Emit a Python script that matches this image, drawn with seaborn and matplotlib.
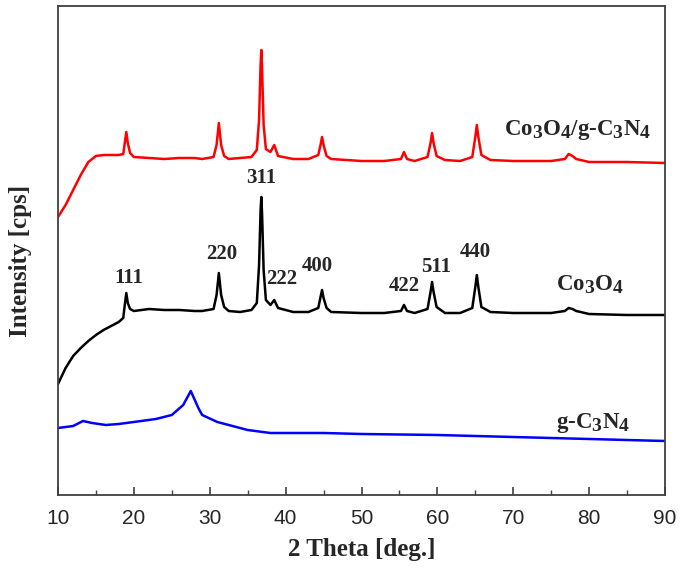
import matplotlib
matplotlib.use("Agg")
import matplotlib.pyplot as plt
from matplotlib.ticker import MultipleLocator
import matplotlib._mathtext as _mt
import seaborn as sns
import pandas as pd

# ---- data (2 theta in degrees, intensity in arbitrary units) ----
theta_x = [10, 11, 12, 13, 14, 15, 16, 17, 18, 18.6, 18.8, 19.0, 19.2, 19.5,
           20, 22, 24, 26, 28, 29, 30.5, 30.9, 31.2, 31.5, 31.9, 32.5,
           34, 35.5, 36.2, 36.5, 36.7, 36.8, 36.9, 37.1, 37.4, 38, 38.5, 39,
           41, 43, 44.3, 44.6, 44.8, 45.0, 45.4, 46, 50, 53, 55.2, 55.6, 56, 57,
           58.7, 59.1, 59.3, 59.5, 59.9, 61, 63, 64.6, 65.0, 65.2, 65.4, 65.8,
           67, 70, 75, 76.8, 77.3, 77.8, 78.3, 80, 85, 90]

red_y = [278, 290, 305, 320, 333, 339, 340, 340, 340, 341, 352, 363, 352, 342,
         338, 337, 336, 337, 337, 336, 338, 350, 372, 350, 339, 336,
         337, 338, 345, 375, 430, 445, 425, 370, 346, 343, 350, 339,
         336, 336, 340, 350, 358, 350, 339, 336, 334, 334, 336, 343, 336, 334,
         338, 352, 362, 352, 339, 335, 334, 338, 358, 370, 358, 340,
         335, 334, 334, 336, 341, 339, 336, 333, 333, 332]

black_y = [111, 127, 139, 147, 154, 160, 165, 169, 173, 177, 190, 202, 192, 186,
           184, 186, 185, 185, 184, 184, 186, 200, 222, 200, 188, 184,
           183, 185, 192, 230, 285, 298, 280, 225, 195, 190, 195, 187,
           183, 183, 187, 198, 205, 197, 187, 183, 182, 182, 184, 190, 184, 182,
           186, 203, 213, 203, 188, 182, 182, 187, 208, 220, 208, 188,
           183, 182, 182, 184, 187, 186, 184, 181, 180, 180]

blue_x = [10, 12, 13.3, 14.5, 16.3, 18, 20, 22.9, 25, 26.5, 27.5, 28.5, 29, 31, 33, 35, 37, 38,
          45, 50, 60, 70, 80, 90]
blue_y = [67, 69, 74, 72, 70, 71, 73, 76, 80, 90, 104, 87, 80, 73, 69, 65, 63, 62,
          62, 61, 60, 58, 56, 54]

series_names = ["Co3O4/g-C3N4", "Co3O4", "g-C3N4"]
hkl_labels = ["111", "220", "311", "222", "400", "422", "511", "440"]
hkl_x = [19.3, 31.6, 36.8, 39.5, 44.2, 55.7, 59.9, 65.0]
hkl_y = [217, 241, 317, 216, 229, 209, 228, 243]

assert len(theta_x) == len(red_y) == len(black_y)

df = pd.concat([
    pd.DataFrame({"two_theta": theta_x, "intensity": red_y, "sample": series_names[0]}),
    pd.DataFrame({"two_theta": theta_x, "intensity": black_y, "sample": series_names[1]}),
    pd.DataFrame({"two_theta": blue_x, "intensity": blue_y, "sample": series_names[2]}),
])

sns.set_style("white")
plt.rcParams["font.family"] = ["Liberation Serif", "DejaVu Serif"]
plt.rcParams["mathtext.default"] = "regular"
try:
    _mt.SHRINK_FACTOR = 0.85
except Exception:
    pass

fig = plt.figure(figsize=(6.8, 5.69), dpi=100)
ax = fig.add_axes([58 / 680, 74 / 569, 607 / 680, 489 / 569])

palette = {series_names[0]: "#ff0000", series_names[1]: "#000000", series_names[2]: "#0000ff"}
sns.lineplot(data=df, x="two_theta", y="intensity", hue="sample", palette=palette,
             sort=False, estimator=None, lw=1.8, legend=False, ax=ax)

ax.set_xlim(10, 90)
ax.set_ylim(0, 489)
ax.set_yticks([])
ax.xaxis.set_major_locator(MultipleLocator(10))
ax.xaxis.set_minor_locator(MultipleLocator(5))
ax.tick_params(axis="x", which="major", direction="in", length=6, width=1.2, color="#404040",
               bottom=True, pad=10)
ax.tick_params(axis="x", which="minor", direction="in", length=3.5, width=1.0, color="#404040",
               bottom=True)
for lab in ax.get_xticklabels():
    lab.set_fontfamily("Liberation Sans")
    lab.set_fontsize(15)
for s in ax.spines.values():
    s.set_color("#404040")
    s.set_linewidth(1.3)

ax.set_xlabel("2 Theta [deg.]", fontsize=18, fontweight="bold", labelpad=7)
ax.set_ylabel("Intensity [cps]", fontsize=18, fontweight="bold")
ax.yaxis.set_label_coords(-0.043, 0.479)

tkw = dict(fontsize=15, fontweight="bold", ha="center", va="center")
for lab, x, y in zip(hkl_labels, hkl_x, hkl_y):
    ax.text(x, y, lab, **tkw)

nkw = dict(fontsize=16.5, fontweight="bold", ha="left", va="center")
ax.text(68.8, 365, "Co$_3$O$_4$/g-C$_3$N$_4$", **nkw)
ax.text(75.7, 210, "Co$_3$O$_4$", **nkw)
ax.text(75.7, 72, "g-C$_3$N$_4$", **nkw)

fig.savefig("out.png", dpi=100)
